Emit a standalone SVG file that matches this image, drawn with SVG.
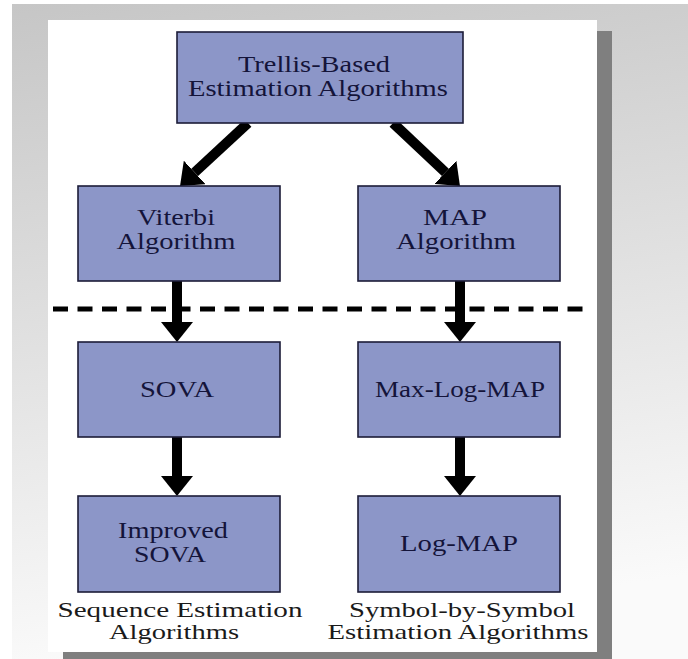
<svg xmlns="http://www.w3.org/2000/svg" width="688" height="659" viewBox="0 0 688 659">
  <defs>
    <linearGradient id="bg" x1="0" y1="0" x2="0.15" y2="1">
      <stop offset="0" stop-color="#c6c6c6"/>
      <stop offset="1" stop-color="#fafafa"/>
    </linearGradient>
    <marker id="ah" viewBox="0 -16 20 32" markerWidth="20" markerHeight="32" refX="0" refY="0" orient="auto" markerUnits="userSpaceOnUse">
      <path d="M0,-16 L20,0 L0,16 Z" fill="#000"/>
    </marker>
    <style>
      .box { fill: #8c96c8; stroke: #1c1c38; stroke-width: 1.6; }
      .t { font-family: "Liberation Serif", "Times New Roman", serif; font-size: 23px; fill: #14143a; text-anchor: middle; }
      .lbl { font-family: "Liberation Serif", "Times New Roman", serif; font-size: 21px; fill: #1a1a1a; text-anchor: middle; }
      .arr { stroke: #000; stroke-width: 10; fill: none; marker-end: url(#ah); }
      .dash { stroke: #000; stroke-width: 5; stroke-dasharray: 15 9.5; fill: none; }
    </style>
  </defs>

  <rect x="0" y="0" width="688" height="659" fill="#ffffff"/>
  <rect x="12" y="4" width="676" height="655" fill="url(#bg)"/>
  <rect x="63" y="31" width="549" height="640" fill="#7f7f7f"/>
  <rect x="48" y="20" width="549" height="632" fill="#ffffff"/>

  <g id="connectors">
    <line class="arr" x1="248" y1="123" x2="194.7" y2="172.4"/>
    <line class="arr" x1="393" y1="123" x2="445.4" y2="172.3"/>
    <line class="arr" x1="177" y1="281" x2="177" y2="322"/>
    <line class="arr" x1="460" y1="281" x2="460" y2="322"/>
    <line class="arr" x1="177" y1="437" x2="177" y2="476"/>
    <line class="arr" x1="460" y1="437" x2="460" y2="476"/>
    <line class="dash" x1="53" y1="309" x2="592" y2="309"/>
  </g>

  <g id="trellis">
    <rect class="box" x="177" y="32" width="286" height="91"/>
    <text class="t" x="314" y="72" textLength="152" lengthAdjust="spacingAndGlyphs">Trellis-Based</text>
    <text class="t" x="318" y="95.5" textLength="260" lengthAdjust="spacingAndGlyphs">Estimation Algorithms</text>
  </g>
  <g id="viterbi">
    <rect class="box" x="78" y="186" width="202" height="95"/>
    <text class="t" x="176" y="225" textLength="78" lengthAdjust="spacingAndGlyphs">Viterbi</text>
    <text class="t" x="176" y="249" textLength="119" lengthAdjust="spacingAndGlyphs">Algorithm</text>
  </g>
  <g id="map">
    <rect class="box" x="358" y="186" width="202" height="95"/>
    <text class="t" x="455" y="225" textLength="64" lengthAdjust="spacingAndGlyphs">MAP</text>
    <text class="t" x="456" y="249" textLength="120" lengthAdjust="spacingAndGlyphs">Algorithm</text>
  </g>
  <g id="sova">
    <rect class="box" x="78" y="342" width="202" height="95"/>
    <text class="t" x="177" y="397" textLength="74" lengthAdjust="spacingAndGlyphs">SOVA</text>
  </g>
  <g id="maxlogmap">
    <rect class="box" x="358" y="342" width="202" height="95"/>
    <text class="t" x="460" y="397" textLength="170" lengthAdjust="spacingAndGlyphs">Max-Log-MAP</text>
  </g>
  <g id="improvedsova">
    <rect class="box" x="78" y="496" width="202" height="96"/>
    <text class="t" x="173" y="538" textLength="110" lengthAdjust="spacingAndGlyphs">Improved</text>
    <text class="t" x="170" y="562" textLength="72" lengthAdjust="spacingAndGlyphs">SOVA</text>
  </g>
  <g id="logmap">
    <rect class="box" x="358" y="496" width="202" height="96"/>
    <text class="t" x="459" y="551" textLength="118" lengthAdjust="spacingAndGlyphs">Log-MAP</text>
  </g>
  <g id="labels">
    <text class="lbl" x="180" y="617" textLength="245" lengthAdjust="spacingAndGlyphs">Sequence Estimation</text>
    <text class="lbl" x="174" y="639" textLength="130" lengthAdjust="spacingAndGlyphs">Algorithms</text>
    <text class="lbl" x="462" y="617" textLength="226" lengthAdjust="spacingAndGlyphs">Symbol-by-Symbol</text>
    <text class="lbl" x="458" y="639" textLength="261" lengthAdjust="spacingAndGlyphs">Estimation Algorithms</text>
  </g>
</svg>
